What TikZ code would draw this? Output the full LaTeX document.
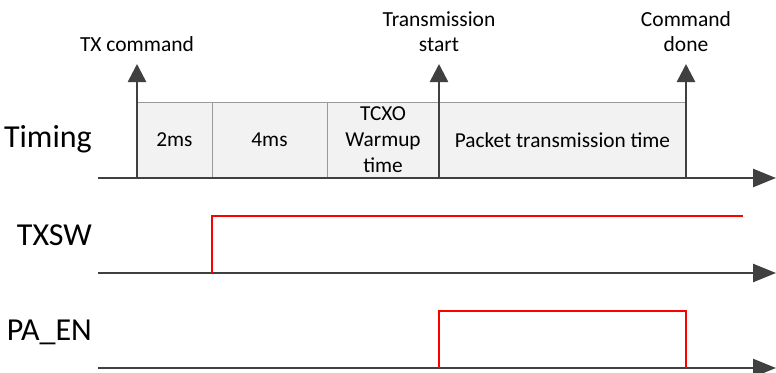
\documentclass[tikz,border=0pt]{standalone}
\usepackage{fontspec}
\setmainfont{Carlito}
\usetikzlibrary{arrows.meta,positioning}
\definecolor{axisColor}{HTML}{404040}
\definecolor{cellColor}{HTML}{F2F2F2}
\definecolor{edgeColor}{HTML}{9A9A9A}
\definecolor{sigColor}{HTML}{FF0000}
\tikzset{
	axis/.style={draw=axisColor, line width=2.6pt, -{Triangle[length=23pt,width=18pt]}},
	event/.style={draw=axisColor, line width=2.6pt, -{Triangle[length=18pt,width=18pt]}},
	cell/.style={draw=edgeColor, fill=cellColor, line width=0.8pt, minimum height=76pt,
		inner sep=0pt, outer sep=0pt, font=\fontsize{21.3}{26}\selectfont, align=center},
	sig/.style={draw=sigColor, line width=2.2pt},
	row/.style={font=\fontsize{32}{38}\selectfont, anchor=base east, inner sep=0pt},
	tag/.style={font=\fontsize{21.5}{25.5}\selectfont, align=center, inner sep=0pt, above=12pt}
}

\begin{document}
\begin{tikzpicture}[x=1pt, y=-1pt]
	\useasboundingbox (0,0) rectangle (776,372);
	% row labels
	\node[row] (timing) at (92,147) {Timing};
	\node[row] (txsw) at (92,245) {TXSW};
	\node[row] (paen) at (92,340) {PA\_EN};
	
	% time slots
	\node[cell, minimum width=75pt] (c1) at (174.5,140) {2ms};
	\node[cell, minimum width=115pt] (c2) at (269.5,140) {4ms};
	\node[cell, minimum width=112pt] (c3) at (383,140) {TCXO\\Warmup\\time};
	\node[cell, minimum width=247pt] (c4) at (562.5,140) {Packet transmission time};
	
	% axes
	\coordinate (a1) at (98,178);
	\coordinate (a1end) at (776,178);
	\coordinate (a2) at (98,273);
	\coordinate (a2end) at (776,273);
	\coordinate (a3) at (98,368);
	\coordinate (a3end) at (776,368);
	\draw[axis] (a1) -- (a1end);
	\draw[axis] (a2) -- (a2end);
	\draw[axis] (a3) -- (a3end);
	
	% events
	\coordinate (e1) at (137,178);
	\coordinate (e1top) at (137,64);
	\coordinate (e2) at (439,178);
	\coordinate (e2top) at (439,64);
	\coordinate (e3) at (686,178);
	\coordinate (e3top) at (686,64);
	\draw[event] (e1) -- (e1top);
	\draw[event] (e2) -- (e2top);
	\draw[event] (e3) -- (e3top);
	\node[tag] (txcmd) at (e1top) {TX command};
	\node[tag] (txstart) at (e2top) {Transmission\\start};
	\node[tag] (cmddone) at (e3top) {Command\\done};
	
	% signals
	\coordinate (s1) at (212,273);
	\coordinate (s1end) at (743,216);
	\draw[sig] (s1) |- (s1end);
	\coordinate (p0) at (439,368);
	\coordinate (p1) at (686,311);
	\coordinate (p2) at (686,368);
	\draw[sig] (p0) |- (p1) -- (p2);
\end{tikzpicture}
\end{document}
